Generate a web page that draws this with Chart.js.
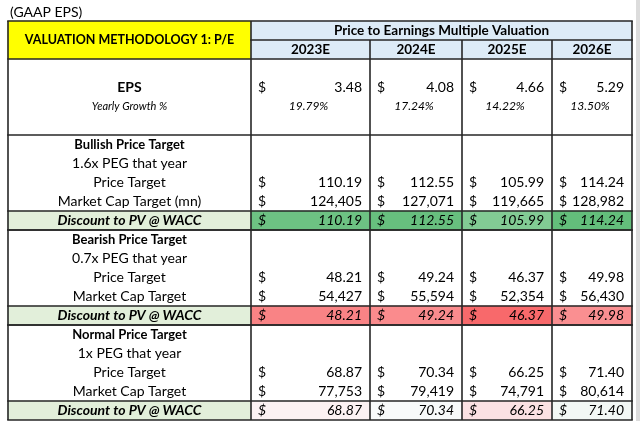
<!DOCTYPE html>
<html>
<head>
<meta charset="utf-8">
<script src="https://cdn.jsdelivr.net/npm/chart.js@4/dist/chart.umd.min.js"></script>
<style>
  html, body { margin: 0; padding: 0; background: #fff; }
  #tbl { display: block; }
</style>
</head>
<body>
<canvas id="tbl" width="640" height="428"></canvas>
<script>
// values
const years = ['2023E', '2024E', '2025E', '2026E'];
const eps = [3.48, 4.08, 4.66, 5.29];
const epsGrowth = [19.79, 17.24, 14.22, 13.50];
const bullPrice = [110.19, 112.55, 105.99, 114.24];
const bullCap = [124405, 127071, 119665, 128982];
const bullPV = [110.19, 112.55, 105.99, 114.24];
const bearPrice = [48.21, 49.24, 46.37, 49.98];
const bearCap = [54427, 55594, 52354, 56430];
const bearPV = [48.21, 49.24, 46.37, 49.98];
const normPrice = [68.87, 70.34, 66.25, 71.40];
const normCap = [77753, 79419, 74791, 80614];
const normPV = [68.87, 70.34, 66.25, 71.40];

// one category per sheet row
const rows = ['title', 'h1', 'h2', 'e0', 'eps', 'growth', 'e3',
  'bullHead', 'bullPeg', 'bullPrice', 'bullCap', 'bullPV',
  'bearHead', 'bearPeg', 'bearPrice', 'bearCap', 'bearPV',
  'normHead', 'normPeg', 'normPrice', 'normCap', 'normPV'];

// column edges in sheet units (label column + 4 year columns)
const colEdges = [8, 251, 370, 462, 552, 632];

// conditional format colours of the PV rows
const bullColors = ['#6dc283', '#67bf7e', '#82cb94', '#63be7b'];
const bearColors = ['#f98385', '#fa8b8d', '#f8696b', '#fa8f91'];
const normColors = ['#fcf2f3', '#f8fafa', '#fbe1e3', '#f3f8f5'];

const FONT = 'Lato, "Open Sans", sans-serif';

// filled cells -> floating bars
const cells = [];
function cell(row, c0, c1, color) {
  cells.push({ y: row, x: [colEdges[c0], colEdges[c1]], color: color });
}
cell('h1', 0, 1, '#ffff00');
cell('h2', 0, 1, '#ffff00');
cell('h1', 1, 5, '#ddebf7');
cell('h2', 1, 5, '#ddebf7');
['bullPV', 'bearPV', 'normPV'].forEach(r => cell(r, 0, 1, '#e2efda'));
years.forEach((y, i) => {
  cell('bullPV', i + 1, i + 2, bullColors[i]);
  cell('bearPV', i + 1, i + 2, bearColors[i]);
  cell('normPV', i + 1, i + 2, normColors[i]);
});

function money(v) { return v.toFixed(2); }
function cap(v) { return v.toLocaleString('en-US'); }

const tablePlugin = {
  id: 'table',
  afterDatasetsDraw(chart) {
    const ctx = chart.ctx;
    const xs = chart.scales.x;
    const ys = chart.scales.y;
    const band = ys.getPixelForValue(1) - ys.getPixelForValue(0);
    const rowMid = r => ys.getPixelForValue(rows.indexOf(r));
    const rowTop = r => rowMid(r) - band / 2;
    const rowBot = r => rowMid(r) + band / 2;
    const cx = i => xs.getPixelForValue(colEdges[i]);

    ctx.save();
    // scroll edge at the right
    ctx.fillStyle = '#dcdcdc';
    ctx.fillRect(cx(5) + 4, 0, 5, rowBot('normPV') + 1);

    function text(str, x, y, align, style, size) {
      ctx.font = (style || '') + ' ' + (size || 14) + 'px ' + FONT;
      ctx.textAlign = align;
      ctx.textBaseline = 'middle';
      ctx.fillStyle = '#000';
      ctx.fillText(str, x, y);
    }
    const labelMid = (cx(0) + cx(1)) / 2;

    text('(GAAP EPS)', cx(0) + 2, rowMid('title') + 1, 'left', '', 14);
    text('VALUATION METHODOLOGY 1: P/E', labelMid, rowBot('h1'), 'center', 'bold', 12.5);
    text('Price to Earnings Multiple Valuation', (cx(1) + cx(5)) / 2, rowMid('h1'), 'center', 'bold', 13.5);
    years.forEach((y, i) => text(y, (cx(i + 1) + cx(i + 2)) / 2, rowMid('h2'), 'center', 'bold', 13.5));

    text('EPS', labelMid, rowMid('eps'), 'center', 'bold', 14);
    text('Yearly Growth %', labelMid, rowMid('growth'), 'center', 'italic', 11);

    const sections = [
      ['bull', 'Bullish Price Target', '1.6x PEG that year', 'Market Cap Target (mn)'],
      ['bear', 'Bearish Price Target', '0.7x PEG that year', 'Market Cap Target'],
      ['norm', 'Normal Price Target', '1x PEG that year', 'Market Cap Target']
    ];
    sections.forEach(s => {
      text(s[1], labelMid, rowMid(s[0] + 'Head'), 'center', 'bold', 13);
      text(s[2], labelMid, rowMid(s[0] + 'Peg'), 'center', '', 14);
      text('Price Target', labelMid, rowMid(s[0] + 'Price'), 'center', '', 14);
      text(s[3], labelMid, rowMid(s[0] + 'Cap'), 'center', '', 14);
      text('Discount to PV @ WACC', labelMid, rowMid(s[0] + 'PV'), 'center', 'italic bold', 14);
    });

    const valueRows = [
      ['eps', eps, money, ''],
      ['bullPrice', bullPrice, money, ''], ['bullCap', bullCap, cap, ''], ['bullPV', bullPV, money, 'italic'],
      ['bearPrice', bearPrice, money, ''], ['bearCap', bearCap, cap, ''], ['bearPV', bearPV, money, 'italic'],
      ['normPrice', normPrice, money, ''], ['normCap', normCap, cap, ''], ['normPV', normPV, money, 'italic']
    ];
    valueRows.forEach(vr => {
      vr[1].forEach((v, i) => {
        const y = rowMid(vr[0]);
        text('$', cx(i + 1) + 7, y, 'left', vr[3], 14);
        text(vr[2](v), cx(i + 2) - 8, y, 'right', vr[3], 14);
      });
    });
    epsGrowth.forEach((g, i) => {
      text(g.toFixed(2) + '%', (cx(i + 1) + cx(i + 2)) / 2 - 2, rowMid('growth'), 'center', 'italic', 12);
    });

    // borders
    ctx.strokeStyle = '#262626';
    ctx.lineWidth = 1.6;
    function hline(y, c0, c1) {
      ctx.beginPath(); ctx.moveTo(cx(c0) - 0.8, y); ctx.lineTo(cx(c1) + 0.8, y); ctx.stroke();
    }
    function vline(x, y0, y1) {
      ctx.beginPath(); ctx.moveTo(x, y0); ctx.lineTo(x, y1); ctx.stroke();
    }
    hline(rowTop('h1'), 0, 5);
    hline(rowTop('h2'), 1, 5);
    ['e0', 'bullHead', 'bullPV', 'bearHead', 'bearPV', 'normHead', 'normPV']
      .forEach(r => hline(rowTop(r), 0, 5));
    hline(rowBot('normPV'), 0, 5);
    hline(rowBot('bullPV'), 0, 5);
    hline(rowBot('bearPV'), 0, 5);
    const top = rowTop('h1');
    const bot = rowBot('normPV');
    [0, 1, 5].forEach(i => vline(cx(i), top, bot));
    [2, 3, 4].forEach(i => vline(cx(i), rowTop('h2'), bot));
    ctx.restore();
  }
};

const ctx = document.getElementById('tbl').getContext('2d');
const myChart = new Chart(ctx, {
  type: 'bar',
  data: {
    labels: rows,
    datasets: [{
      data: cells.map(c => ({ y: c.y, x: c.x })),
      backgroundColor: cells.map(c => c.color),
      borderWidth: 0,
      barPercentage: 1,
      categoryPercentage: 1
    }]
  },
  options: {
    indexAxis: 'y',
    responsive: false,
    animation: false,
    layout: { padding: { top: 2, bottom: 8, left: 0, right: 0 } },
    plugins: { legend: { display: false }, tooltip: { enabled: false } },
    scales: {
      x: { type: 'linear', min: 0, max: 640, display: false },
      y: { type: 'category', offset: true, display: false }
    }
  },
  plugins: [tablePlugin]
});
</script>
</body>
</html>
